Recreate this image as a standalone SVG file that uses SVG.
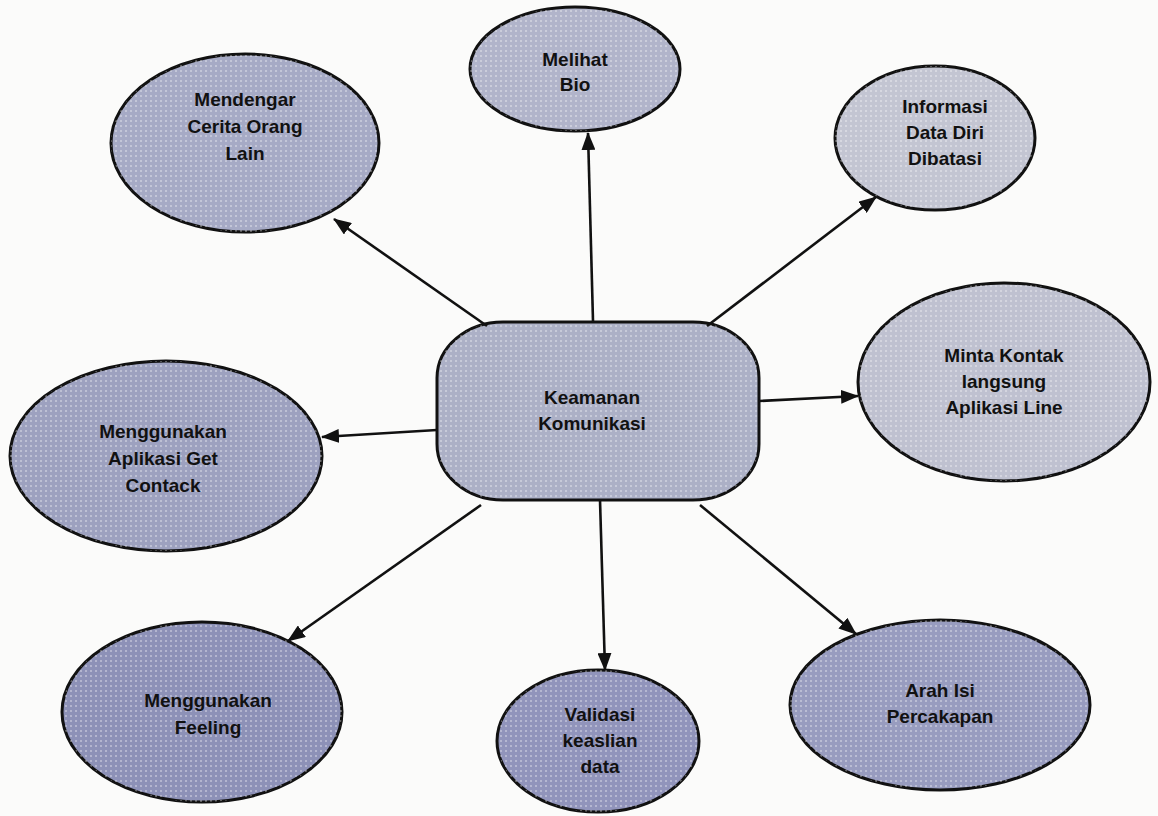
<svg xmlns="http://www.w3.org/2000/svg" width="1158" height="816" viewBox="0 0 1158 816">
  <defs>
    <!-- halftone-like dot grid laid over each shape's fill -->
    <pattern id="dots" width="5" height="5" patternUnits="userSpaceOnUse">
      <rect x="0" y="0" width="2" height="2" fill="#ffffff" fill-opacity="0.33"/>
    </pattern>
    <marker id="arrow" viewBox="0 0 18 14" refX="17" refY="7" markerWidth="18" markerHeight="14" markerUnits="userSpaceOnUse" orient="auto">
      <path d="M0,0 L18,7 L0,14 z" fill="#111"/>
    </marker>
  </defs>
  <style>
    .shape { stroke: #111; stroke-width: 3; }
    .tex { fill: url(#dots); stroke: none; }
    .lbl { font-family: "Liberation Sans", Arial, sans-serif; font-size: 19px; font-weight: bold; fill: #111; text-anchor: middle; }
    .conn line { stroke: #111; stroke-width: 2.6; marker-end: url(#arrow); }
  </style>
  <rect width="1158" height="816" fill="#fbfbfa"/>

  <g id="n-center">
    <rect class="shape" x="437" y="322" width="322" height="178" rx="66" ry="56" fill="#acb0c6"/>
    <rect class="tex" x="437" y="322" width="322" height="178" rx="66" ry="56"/>
    <text class="lbl" x="592" y="404">Keamanan</text>
    <text class="lbl" x="592" y="430">Komunikasi</text>
  </g>

  <g id="n-mendengar">
    <ellipse class="shape" cx="245" cy="143" rx="134" ry="89" fill="#a6aac5"/>
    <ellipse class="tex" cx="245" cy="143" rx="134" ry="89"/>
    <text class="lbl" x="245" y="106">Mendengar</text>
    <text class="lbl" x="245" y="133">Cerita Orang</text>
    <text class="lbl" x="245" y="160">Lain</text>
  </g>

  <g id="n-melihat">
    <ellipse class="shape" cx="575" cy="69" rx="105" ry="62" fill="#b1b4ca"/>
    <ellipse class="tex" cx="575" cy="69" rx="105" ry="62"/>
    <text class="lbl" x="575" y="66">Melihat</text>
    <text class="lbl" x="575" y="91">Bio</text>
  </g>

  <g id="n-informasi">
    <ellipse class="shape" cx="935" cy="138" rx="100" ry="72" fill="#c3c5d2"/>
    <ellipse class="tex" cx="935" cy="138" rx="100" ry="72"/>
    <text class="lbl" x="945" y="113">Informasi</text>
    <text class="lbl" x="945" y="139">Data Diri</text>
    <text class="lbl" x="945" y="165">Dibatasi</text>
  </g>

  <g id="n-minta">
    <ellipse class="shape" cx="1004" cy="382" rx="146" ry="99" fill="#bfc1d0"/>
    <ellipse class="tex" cx="1004" cy="382" rx="146" ry="99"/>
    <text class="lbl" x="1004" y="362">Minta Kontak</text>
    <text class="lbl" x="1004" y="388">langsung</text>
    <text class="lbl" x="1004" y="414">Aplikasi Line</text>
  </g>

  <g id="n-getcontack">
    <ellipse class="shape" cx="166" cy="456" rx="156" ry="95" fill="#9da1bf"/>
    <ellipse class="tex" cx="166" cy="456" rx="156" ry="95"/>
    <text class="lbl" x="163" y="438">Menggunakan</text>
    <text class="lbl" x="163" y="465">Aplikasi Get</text>
    <text class="lbl" x="163" y="492">Contack</text>
  </g>

  <g id="n-feeling">
    <ellipse class="shape" cx="202" cy="712" rx="140" ry="90" fill="#8d91b7"/>
    <ellipse class="tex" cx="202" cy="712" rx="140" ry="90"/>
    <text class="lbl" x="208" y="707">Menggunakan</text>
    <text class="lbl" x="208" y="734">Feeling</text>
  </g>

  <g id="n-validasi">
    <ellipse class="shape" cx="598" cy="741" rx="101" ry="71" fill="#9194bb"/>
    <ellipse class="tex" cx="598" cy="741" rx="101" ry="71"/>
    <text class="lbl" x="600" y="721">Validasi</text>
    <text class="lbl" x="600" y="747">keaslian</text>
    <text class="lbl" x="600" y="773">data</text>
  </g>

  <g id="n-arah">
    <ellipse class="shape" cx="940" cy="705" rx="150" ry="85" fill="#989cbf"/>
    <ellipse class="tex" cx="940" cy="705" rx="150" ry="85"/>
    <text class="lbl" x="940" y="697">Arah Isi</text>
    <text class="lbl" x="940" y="723">Percakapan</text>
  </g>

  <!-- arrows run from the central node out to each ellipse's rim -->
  <g class="conn" id="connectors">
    <line x1="487" y1="326" x2="334" y2="219"/>
    <line x1="593" y1="321" x2="588" y2="133"/>
    <line x1="707" y1="326" x2="876" y2="197"/>
    <line x1="759" y1="401" x2="858" y2="396"/>
    <line x1="437" y1="430" x2="322" y2="437"/>
    <line x1="481" y1="505" x2="288" y2="641"/>
    <line x1="600" y1="500" x2="605" y2="670"/>
    <line x1="700" y1="505" x2="856" y2="634"/>
  </g>
</svg>
